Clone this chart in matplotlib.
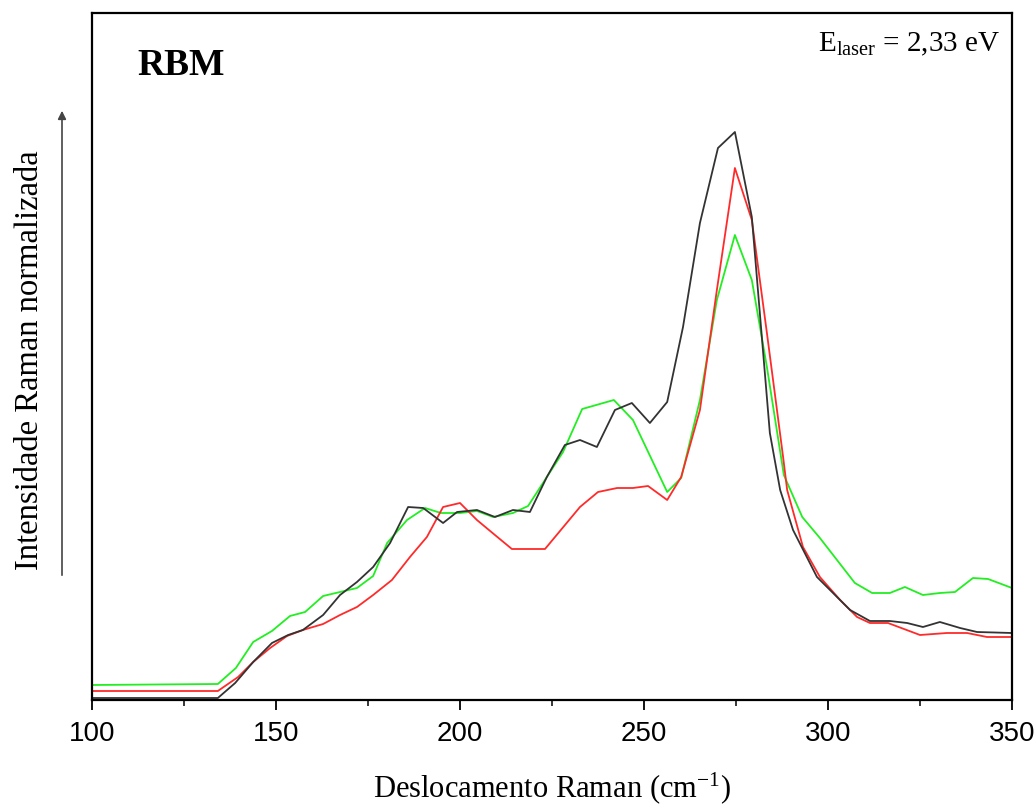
import matplotlib
matplotlib.use('Agg')
import matplotlib.pyplot as plt
from matplotlib.ticker import MultipleLocator

plt.rcParams['font.family'] = ['Liberation Serif', 'DejaVu Serif']
plt.rcParams['mathtext.fontset'] = 'custom'
plt.rcParams['mathtext.rm'] = 'Liberation Serif'
plt.rcParams['mathtext.it'] = 'Liberation Serif:italic'

# Raman shift (cm-1) and normalized intensity (arb. units) for each spectrum
green_x = [100, 134.2, 139.1, 143.8, 148.9, 153.8, 157.9, 162.8, 167.4, 172.0,
           176.4, 180.2, 185.6, 190.5, 194.8, 200.0, 204.6, 209.0, 214.4, 218.5,
           223.6, 228.0, 233.2, 241.8, 247.0, 256.3, 260.1, 265.2, 269.8, 274.7,
           279.3, 283.4, 288.0, 293.0, 297.8, 307.3, 312.0, 316.8, 320.9, 325.8,
           330.4, 334.5, 339.4, 343.5, 350]
green_y = [15, 16, 32, 58, 69, 84, 88, 104, 108, 112,
           124, 157, 180, 192, 187, 187, 189, 183, 187, 194,
           223, 248, 291, 300, 280, 208, 222, 300, 400, 465,
           420, 333, 225, 183, 162, 117, 107, 107, 113, 105,
           107, 108, 122, 121, 112]

red_x = [100, 134.2, 139.7, 143.8, 148.4, 153.0, 157.3, 162.8, 167.4, 172.0,
         176.4, 181.5, 186.4, 191.0, 195.4, 200.0, 204.6, 209.5, 214.1, 223.1,
         232.6, 237.5, 242.7, 247.0, 251.1, 256.3, 260.1, 265.2, 269.8, 274.7,
         279.3, 283.4, 287.8, 288.9, 293.2, 297.8, 303.3, 307.9, 311.4, 316.3,
         325.0, 332.3, 337.8, 343.2, 350]
red_y = [9, 9, 23, 38, 52, 64, 70, 76, 85, 93,
         105, 120, 143, 163, 193, 197, 180, 165, 151, 151,
         193, 208, 212, 212, 214, 200, 223, 290, 410, 532,
         480, 367, 243, 210, 153, 123, 100, 83, 77, 77,
         65, 67, 67, 63, 63]

black_x = [100, 134.2, 138.9, 143.8, 148.9, 153.3, 157.3, 162.8, 167.4, 172.0,
           176.4, 181.0, 185.9, 190.0, 195.4, 199.2, 204.6, 209.5, 214.4, 219.0,
           223.6, 228.5, 232.6, 237.2, 242.1, 246.7, 251.6, 256.3, 260.6, 265.2,
           270.1, 274.7, 279.3, 284.2, 287.0, 290.5, 297.0, 306.0, 311.4, 316.8,
           321.5, 325.8, 330.4, 335.9, 340.5, 350]
black_y = [2, 2, 17, 38, 57, 65, 70, 85, 105, 118,
           133, 157, 193, 192, 177, 188, 190, 183, 190, 188,
           223, 255, 260, 253, 290, 297, 277, 298, 373, 477,
           552, 568, 483, 267, 210, 170, 123, 90, 79, 79,
           77, 73, 78, 72, 68, 67]

fig = plt.figure(figsize=(10.36, 8.08), dpi=100)
ax = fig.add_axes([92 / 1036, 1 - 700 / 808, 920 / 1036, 687 / 808])

ax.plot(green_x, green_y, color='#22ee22', lw=1.3)
ax.plot(red_x, red_y, color='#ff2a2a', lw=1.3)
ax.plot(black_x, black_y, color='#333333', lw=1.3)

ax.set_xlim(100, 350)
ax.set_ylim(0, 687)
ax.xaxis.set_major_locator(MultipleLocator(50))
ax.xaxis.set_minor_locator(MultipleLocator(25))
ax.tick_params(axis='x', which='major', direction='out', length=7, width=1.3,
               pad=8, labelsize=20)
ax.tick_params(axis='x', which='minor', direction='out', length=4, width=1.1)
ax.tick_params(axis='y', left=False, labelleft=False)
for lab in ax.get_xticklabels():
    lab.set_family(['Liberation Sans', 'DejaVu Sans'])
for s in ax.spines.values():
    s.set_linewidth(1.6)

ax.set_xlabel('Deslocamento Raman (cm$^{\\mathregular{-1}}$)', fontsize=22, labelpad=17)
fig.text(30 / 1036, 1 - 360 / 808, 'Intensidade Raman normalizada', rotation=90,
         fontsize=23.5, ha='center', va='center')
fig.add_artist(matplotlib.patches.FancyArrowPatch(
    (62 / 1036, 1 - 578 / 808), (62 / 1036, 1 - 108 / 808),
    transform=fig.transFigure, arrowstyle='-|>', mutation_scale=12,
    color='#444444', lw=1.2))

ax.text(0.049, 0.924, 'RBM', transform=ax.transAxes, fontsize=27,
        fontweight='bold', ha='left', va='center')
ax.text(0.987, 0.955, 'E$_{\\mathregular{laser}}$ = 2,33 eV', transform=ax.transAxes,
        fontsize=21, ha='right', va='center')

fig.savefig('out.png', dpi=100)
